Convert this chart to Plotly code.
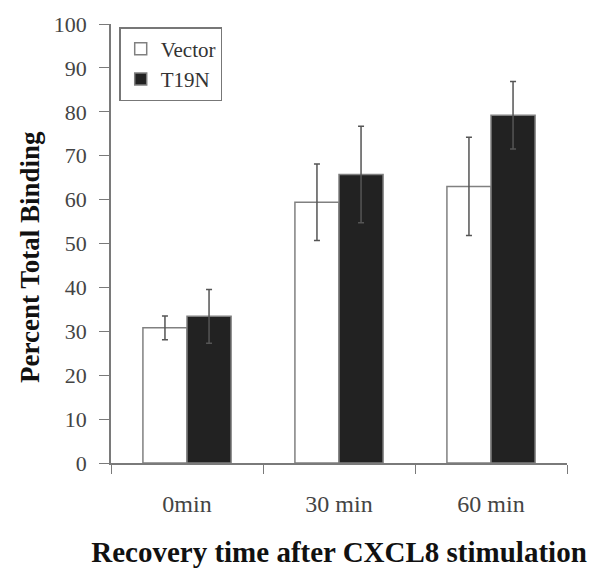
import plotly.graph_objects as go

categories = ["0min", "30 min", "60 min"]
vector_vals = [30.8, 59.4, 63.0]
vector_err = [2.7, 8.7, 11.2]
t19n_vals = [33.4, 65.7, 79.2]
t19n_err = [6.1, 11.0, 7.7]
y_ticks = [0, 10, 20, 30, 40, 50, 60, 70, 80, 90, 100]
x_title = "Recovery time after CXCL8 stimulation"
y_title = "Percent Total Binding"

font_family = "Liberation Serif"
axis_color = "#7a7a7a"

fig = go.Figure()
fig.add_trace(go.Bar(
    name="Vector", x=categories, y=vector_vals,
    marker=dict(color="white", line=dict(color="#808080", width=1.5)),
    error_y=dict(type="data", array=vector_err, color="#555555", thickness=1.5, width=3),
))
fig.add_trace(go.Bar(
    name="T19N", x=categories, y=t19n_vals,
    marker=dict(color="#222222", line=dict(color="#808080", width=1.5)),
    error_y=dict(type="data", array=t19n_err, color="#555555", thickness=1.5, width=3),
))

fig.update_layout(
    width=601, height=581,
    margin=dict(l=103, r=42, t=16, b=126, autoexpand=False),
    paper_bgcolor="white", plot_bgcolor="white",
    barmode="group", bargap=0.42, bargroupgap=0,
    font=dict(family=font_family, size=18, color="#333333"),
    showlegend=True,
    legend=dict(
        x=0.018, y=0.993, xanchor="left", yanchor="top",
        bordercolor="#777777", borderwidth=1.5, bgcolor="white",
        font=dict(family=font_family, size=21, color="#333333"),
        tracegroupgap=0,
    ),
)
fig.update_xaxes(
    automargin=False,
    showline=True, linecolor=axis_color, linewidth=1.5,
    ticks="outside", tickson="boundaries", ticklen=9, tickcolor=axis_color,
    ticklabelstandoff=18,
    tickfont=dict(family=font_family, size=24, color="#444444"),
    title=dict(text="<b>" + x_title + "</b>",
               font=dict(family=font_family, size=29, color="#111111"), standoff=26),
    showgrid=False,
)
fig.update_yaxes(
    automargin=False,
    range=[0, 100], tickvals=y_ticks,
    showline=True, linecolor=axis_color, linewidth=1.5,
    ticks="outside", ticklen=10, tickcolor=axis_color,
    ticklabelstandoff=8,
    tickfont=dict(family=font_family, size=22, color="#444444"),
    showgrid=False, zeroline=False,
)
fig.add_annotation(
    text="<b>" + y_title + "</b>", textangle=-90,
    xref="paper", yref="paper", x=-0.178, y=0.469,
    xanchor="center", yanchor="middle", showarrow=False,
    font=dict(family=font_family, size=27, color="#111111"),
)

fig.write_html("out.html")
